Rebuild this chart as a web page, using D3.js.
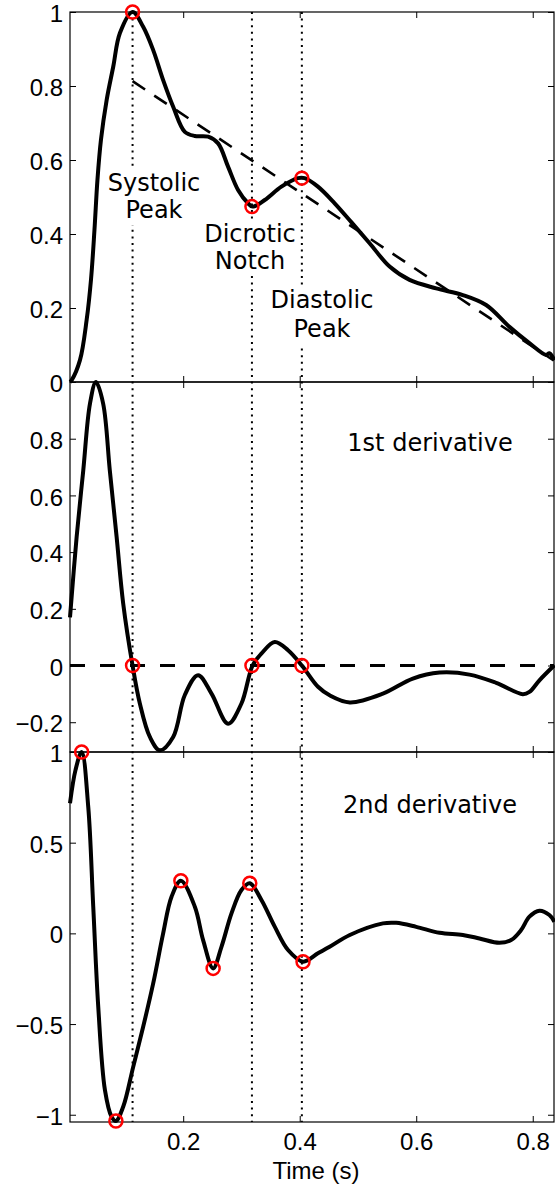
<!DOCTYPE html>
<html>
<head>
<meta charset="UTF-8">
<style>
  body { margin: 0; background: #fff; }
  svg { display: block; }
  .tick text { font-family: "Liberation Sans", Arial, sans-serif; font-size: 24px; fill: #000; }
  .tick line { stroke: #000; }
  .note { font-family: "DejaVu Sans", sans-serif; font-size: 24px; fill: #000; }
</style>
</head>
<body>
<svg width="555" height="1187"></svg>
<script src="https://d3js.org/d3.v7.min.js"></script>
<script>

// pulse wave (top panel)
const ppgT = [0.0057, 0.0086, 0.0228, 0.0343, 0.0417, 0.0477, 0.0528, 0.0588, 0.0686, 0.0799, 0.0914, 0.1131,
  0.1313, 0.1485, 0.1656, 0.1828, 0.2028, 0.22, 0.2428, 0.2599, 0.277, 0.2942, 0.3113, 0.319,
  0.34, 0.3686, 0.397, 0.4085, 0.4313, 0.46, 0.4886, 0.52, 0.5543, 0.5886, 0.6343, 0.68, 0.72,
  0.76, 0.7943, 0.823, 0.8286, 0.8372];
const ppgV = [0, 0.005, 0.059, 0.168, 0.276, 0.411, 0.546, 0.654, 0.762, 0.852, 0.943, 1.0,
  0.960, 0.897, 0.816, 0.744, 0.676, 0.665, 0.663, 0.645, 0.582, 0.519, 0.483, 0.474,
  0.492, 0.528, 0.551, 0.551, 0.528, 0.483, 0.432, 0.375, 0.312, 0.276, 0.253, 0.235, 0.208,
  0.149, 0.105, 0.073, 0.078, 0.059];

// 1st derivative
const d1T = [0.0057, 0.0171, 0.0285, 0.04, 0.0502, 0.0626, 0.074, 0.0857, 0.097, 0.1131,
  0.1256, 0.1428, 0.16, 0.1828, 0.2028, 0.2256, 0.2486, 0.277, 0.3, 0.319, 0.3342, 0.3571,
  0.38, 0.4037, 0.4314, 0.4514, 0.486, 0.5428, 0.5942, 0.64, 0.6914, 0.7372, 0.7828, 0.7943,
  0.8115, 0.8372];
const d1V = [0.17, 0.454, 0.689, 0.924, 1.0, 0.924, 0.689, 0.454, 0.219, 0,
  -0.134, -0.252, -0.299, -0.252, -0.104, -0.034, -0.099, -0.205, -0.134, 0, 0.042, 0.083,
  0.054, 0, -0.075, -0.105, -0.13, -0.099, -0.046, -0.025, -0.032, -0.061, -0.101, -0.093,
  -0.052, 0.001];

// 2nd derivative
const d2T = [0.0057, 0.0151, 0.0257, 0.037, 0.0456, 0.0542, 0.0657, 0.0771, 0.0845, 0.097,
  0.1142, 0.1313, 0.1485, 0.1656, 0.18, 0.196, 0.22, 0.2342, 0.2514, 0.2657, 0.2829, 0.3,
  0.3143, 0.3343, 0.3571, 0.38, 0.4057, 0.4313, 0.4514, 0.486, 0.5428, 0.5657, 0.6, 0.64,
  0.68, 0.7086, 0.7428, 0.7629, 0.78, 0.7943, 0.8115, 0.8286, 0.8372];
const d2V = [0.717, 0.9, 1.0, 0.698, 0.147, -0.405, -0.864, -1.011, -1.035, -0.956,
  -0.736, -0.515, -0.276, 0, 0.202, 0.29, 0.147, -0.037, -0.193, -0.074, 0.110, 0.239,
  0.276, 0.184, 0.037, -0.092, -0.156, -0.110, -0.074, -0.009, 0.055, 0.058, 0.036, 0.003,
  -0.009, -0.028, -0.052, -0.037, 0.018, 0.092, 0.125, 0.101, 0.064];

// fiducial points
const fidT = [0.1131, 0.318, 0.4037];
const ppgMarkV = [1.0, 0.474, 0.551];
const d1MarkV = [0, 0, 0];
const d2MarkT = [0.0257, 0.0845, 0.196, 0.2514, 0.3143, 0.4057];
const d2MarkV = [1.0, -1.035, 0.29, -0.193, 0.276, -0.156];

// dashed decay line in the top panel
const trendT = [0.1131, 0.836];
const trendV = [0.813, 0.058];

const fidLabels = [["Systolic", "Peak"], ["Dicrotic", "Notch"], ["Diastolic", "Peak"]];
const xTicks = [0.2, 0.4, 0.6, 0.8];
const yTicks1 = [0, 0.2, 0.4, 0.6, 0.8, 1];
const yTicks2 = [-0.2, 0, 0.2, 0.4, 0.6, 0.8];
const yTicks3 = [-1, -0.5, 0, 0.5, 1];

const svg = d3.select("svg");
const left = 70, right = 554;
const panelTop = [12, 382, 752], panelH = 370;

const x = d3.scaleLinear().domain([0.0057, 0.8365]).range([left, right]);

const panels = [
  { top: panelTop[0], dom: [0, 1], ticks: yTicks1, t: ppgT, v: ppgV },
  { top: panelTop[1], dom: [-0.305, 1], ticks: yTicks2, t: d1T, v: d1V },
  { top: panelTop[2], dom: [-1.04, 1], ticks: yTicks3, t: d2T, v: d2V }
];
panels.forEach(p => {
  p.y = d3.scaleLinear().domain(p.dom).range([p.top + panelH, p.top]);
});

const fmt = d => d === 0 ? "0" : String(d).replace("-", "\u2212");

// axes: ticks point inward on all four sides
panels.forEach((p, i) => {
  const g = svg.append("g");
  g.append("g").attr("transform", `translate(${left},0)`)
    .call(d3.axisLeft(p.y).tickValues(p.ticks).tickSizeInner(-6).tickSizeOuter(0).tickPadding(7).tickFormat(fmt))
    .call(a => a.select(".domain").remove())
    .selectAll("text").attr("dy", "0.4em");
  g.append("g").attr("transform", `translate(${right},0)`)
    .call(d3.axisRight(p.y).tickValues(p.ticks).tickSizeInner(-6).tickSizeOuter(0).tickFormat(""))
    .call(a => a.select(".domain").remove());
  g.append("g").attr("transform", `translate(0,${p.top})`)
    .call(d3.axisTop(x).tickValues(xTicks).tickSizeInner(-6).tickSizeOuter(0).tickFormat(""))
    .call(a => a.select(".domain").remove());
  g.append("g").attr("transform", `translate(0,${p.top + panelH})`)
    .call(d3.axisBottom(x).tickValues(xTicks).tickSizeInner(-6).tickSizeOuter(0).tickPadding(11)
      .tickFormat(i === 2 ? d3.format(".1f") : ""))
    .call(a => a.select(".domain").remove());
  g.append("rect")
    .attr("x", left).attr("y", p.top).attr("width", right - left).attr("height", panelH)
    .attr("fill", "none").attr("stroke", "#000").attr("stroke-width", 1.2);
});

// dotted markers across all panels
svg.append("g").selectAll("line")
  .data(fidT)
  .enter().append("line")
    .attr("x1", d => x(d)).attr("x2", d => x(d))
    .attr("y1", panelTop[0]).attr("y2", panelTop[2] + panelH)
    .attr("stroke", "#000").attr("stroke-width", 2)
    .attr("stroke-dasharray", "2,4.6");

// dashed lines
const p1 = panels[0], p2 = panels[1], p3 = panels[2];
svg.append("line")
  .attr("x1", x(trendT[0])).attr("y1", p1.y(trendV[0]))
  .attr("x2", x(trendT[1])).attr("y2", p1.y(trendV[1]))
  .attr("stroke", "#000").attr("stroke-width", 2.6).attr("stroke-dasharray", "15,11");
svg.append("line")
  .attr("x1", x(0.0057)).attr("x2", x(0.8365))
  .attr("y1", p2.y(0)).attr("y2", p2.y(0))
  .attr("stroke", "#000").attr("stroke-width", 3).attr("stroke-dasharray", "15,15");

// signal curves
panels.forEach(p => {
  const line = d3.line().x(d => x(d[0])).y(d => p.y(d[1])).curve(d3.curveCatmullRom.alpha(0.5));
  svg.append("path")
    .datum(d3.zip(p.t, p.v))
    .attr("d", line)
    .attr("fill", "none").attr("stroke", "#000")
    .attr("stroke-width", 4).attr("stroke-linejoin", "round");
});

// red circles
function rings(ts, vs, y) {
  svg.append("g").selectAll("circle")
    .data(d3.zip(ts, vs))
    .enter().append("circle")
      .attr("cx", d => x(d[0])).attr("cy", d => y(d[1]))
      .attr("r", 6.5)
      .attr("fill", "none").attr("stroke", "#ff0000").attr("stroke-width", 2.5);
}
rings(fidT, ppgMarkV, p1.y);
rings(fidT, d1MarkV, p2.y);
rings(d2MarkT, d2MarkV, p3.y);

// labels with white background, one text per label
const labelPos = [
  { cx: 154, base: 191, gap: 27 },
  { cx: 250, base: 242, gap: 27 },
  { cx: 322, base: 308, gap: 29 }
];
fidLabels.forEach((lines, i) => {
  const g = svg.append("g");
  const bg = g.append("rect").attr("fill", "#fff");
  const txt = g.append("text")
    .attr("class", "note")
    .attr("text-anchor", "middle");
  lines.forEach((s, j) => txt.append("tspan")
    .attr("x", labelPos[i].cx)
    .attr("y", labelPos[i].base + j * labelPos[i].gap)
    .text(s));
  const b = txt.node().getBBox();
  bg.attr("x", b.x - 2).attr("y", b.y - 1).attr("width", b.width + 4).attr("height", b.height + 2);
});

svg.append("text").attr("class", "note")
  .attr("x", 430).attr("y", 451).attr("text-anchor", "middle")
  .text("1st derivative");
svg.append("text").attr("class", "note")
  .attr("x", 430).attr("y", 813).attr("text-anchor", "middle")
  .text("2nd derivative");

svg.append("text")
  .attr("x", 316).attr("y", 1179)
  .attr("text-anchor", "middle")
  .style("font-family", "'Liberation Sans', Arial, sans-serif")
  .style("font-size", "24px")
  .text("Time (s)");

</script>
</body>
</html>
